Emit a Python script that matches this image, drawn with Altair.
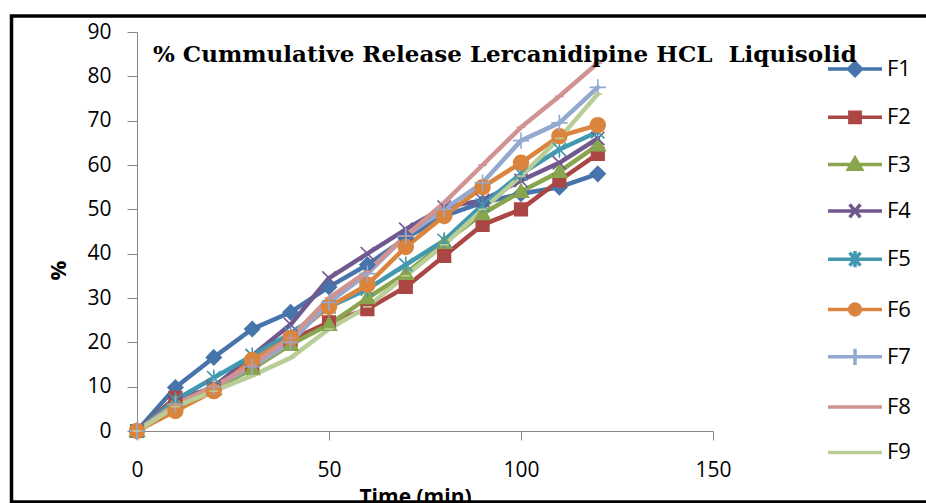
import altair as alt
import pandas as pd

times = [0, 10, 20, 30, 40, 50, 60, 70, 80, 90, 100, 110, 120]
series_names = ["F1", "F2", "F3", "F4", "F5", "F6", "F7", "F8", "F9"]
F1 = [0, 9.8, 16.6, 23.0, 26.8, 32.5, 37.5, 43.5, 48.5, 51.5, 53.5, 55.0, 58.0]
F2 = [0, 7.5, 9.5, 14.5, 20.5, 24.5, 27.5, 32.5, 39.5, 46.5, 50.0, 56.5, 62.5]
F3 = [0, 6.5, 9.5, 14.0, 19.5, 24.0, 30.0, 35.5, 42.5, 49.0, 54.0, 58.5, 64.5]
F4 = [0, 6.5, 10.0, 17.0, 24.0, 34.5, 40.0, 45.5, 50.5, 52.0, 56.5, 60.5, 66.0]
F5 = [0, 7.0, 12.0, 17.0, 22.0, 28.0, 32.0, 37.5, 43.0, 51.0, 58.0, 63.5, 67.5]
F6 = [0, 4.5, 9.0, 16.0, 21.0, 28.0, 33.0, 41.5, 48.5, 55.0, 60.5, 66.5, 69.0]
F7 = [0, 6.0, 10.0, 14.5, 20.0, 29.0, 35.5, 44.0, 50.0, 56.0, 65.5, 69.5, 77.5]
F8 = [0, 6.0, 10.0, 15.0, 21.0, 30.0, 36.0, 44.0, 51.5, 60.0, 68.5, 75.5, 83.0]
F9 = [0, 5.5, 9.0, 12.5, 16.5, 23.0, 28.0, 35.0, 42.0, 50.0, 57.5, 66.0, 76.0]
values = [F1, F2, F3, F4, F5, F6, F7, F8, F9]

colors = ["#4674AB", "#AA4643", "#89A54E", "#71588F", "#4198AF",
          "#DB843D", "#93A9CF", "#D19392", "#B9CD96"]

plot_shapes = [
    "M0,-1L1,0L0,1L-1,0Z",
    "M-0.85,-0.85H0.85V0.85H-0.85Z",
    "M0,-1L1,0.75H-1Z",
    "M-0.9,-0.9L0.9,0.9M-0.9,0.9L0.9,-0.9",
    "M-0.9,-0.9L0.9,0.9M-0.9,0.9L0.9,-0.9M0,-1.1V1.1",
    "circle",
    "M-1.1,0H1.1M0,-1.1V1.1",
    "M-0.6,0H0.6",
    "M-0.6,0H0.6",
]
legend_shapes = [
    "M-1,0H1M0,-0.24L0.24,0L0,0.24L-0.24,0Z",
    "M-1,0H1M-0.19,-0.19H0.19V0.19H-0.19Z",
    "M-1,0H1M0,-0.24L0.24,0.17H-0.24Z",
    "M-1,0H1M-0.2,-0.24L0.2,0.24M-0.2,0.24L0.2,-0.24",
    "M-1,0H1M-0.2,-0.24L0.2,0.24M-0.2,0.24L0.2,-0.24M0,-0.3V0.3",
    "M-1,0H1M0.2,0A0.2,0.2 0 1,1 -0.2,0A0.2,0.2 0 1,1 0.2,0Z",
    "M-1,0H1M0,-0.3V0.3",
    "M-1,0H1",
    "M-1,0H1",
]

rows = []
for name, vals in zip(series_names, values):
    for t, v in zip(times, vals):
        rows.append({"t": t, "value": v, "series": name})
df = pd.DataFrame(rows)

W, H = 576, 399
x_enc = alt.X("t:Q", scale=alt.Scale(domain=[0, 150], nice=False),
              axis=alt.Axis(values=[0, 50, 100, 150], tickSize=9, labelPadding=19,
                            labelFlush=False,
                            domainColor="#868686", tickColor="#868686",
                            labelFont="Open Sans", labelFontSize=21, labelColor="black",
                            grid=False, title="Time (min)", titleFont="Open Sans",
                            titleFontWeight="bold", titleFontSize=21, titleColor="black",
                            titleX=278, titleY=72, titleBaseline="alphabetic"))
y_enc = alt.Y("value:Q", scale=alt.Scale(domain=[0, 90], nice=False),
              axis=alt.Axis(values=list(range(0, 91, 10)), tickSize=10, labelPadding=16,
                            labelFlush=False,
                            domainColor="#868686", tickColor="#868686",
                            labelFont="Open Sans", labelFontSize=21, labelColor="black",
                            grid=False, title="%", titleFont="Open Sans",
                            titleFontWeight="bold", titleFontSize=22, titleColor="black",
                            titleX=-79, titleY=238, titleAngle=-90,
                            titleBaseline="middle", titleAlign="center"))

cscale = alt.Scale(domain=series_names, range=colors)

lines = alt.Chart(df).mark_line(strokeWidth=4.5, strokeJoin="round", strokeCap="round").encode(
    x=x_enc, y=y_enc,
    color=alt.Color("series:N", scale=cscale, legend=None),
    order=alt.Order("t:Q"),
)

points = alt.Chart(df).mark_point(filled=True, size=220, strokeWidth=1.6, opacity=1).encode(
    x="t:Q", y="value:Q",
    fill=alt.Fill("series:N", scale=cscale, legend=None),
    stroke=alt.Stroke("series:N", scale=cscale, legend=None),
    shape=alt.Shape("series:N", scale=alt.Scale(domain=series_names, range=plot_shapes), legend=None),
)

leg = alt.Legend(title=None, orient="none", legendX=689, legendY=8, direction="vertical",
                 labelFont="Open Sans", labelFontSize=22, labelColor="black",
                 symbolSize=2916, symbolStrokeWidth=3.5, labelOffset=3, rowPadding=5.3,
                 padding=0, symbolOpacity=1)

legend_layer = alt.Chart(df).transform_filter(alt.datum.t < 0).mark_point(filled=True, opacity=1).encode(
    x="t:Q", y="value:Q",
    fill=alt.Fill("series:N", scale=cscale, legend=leg),
    stroke=alt.Stroke("series:N", scale=cscale, legend=leg),
    shape=alt.Shape("series:N", scale=alt.Scale(domain=series_names, range=legend_shapes), legend=leg),
)

frame = alt.Chart(pd.DataFrame({"a": [0]})).mark_rect(filled=False, stroke="black", strokeWidth=3.5).encode(
    x=alt.value(-125.5), x2=alt.value(900), y=alt.value(-16), y2=alt.value(470)
)

chart = alt.layer(lines, points, legend_layer, frame).resolve_scale(
    shape="independent", fill="independent", stroke="independent"
).properties(
    width=W, height=H,
    autosize=alt.AutoSizeParams(type="none"),
    padding={"left": 137, "top": 32, "right": 926 - 137 - W, "bottom": 503 - 32 - H},
    title=alt.TitleParams(text="% Cummulative Release Lercanidipine HCL\u00a0 Liquisolid",
                          anchor="start", frame="group", font="DejaVu Serif", fontSize=23,
                          fontWeight="bold", color="black", dx=16, dy=71, offset=0,
                          baseline="alphabetic"),
    background="white",
).configure_view(stroke=None)

chart.save("out.html", embed_options={"renderer": "svg", "actions": False})
